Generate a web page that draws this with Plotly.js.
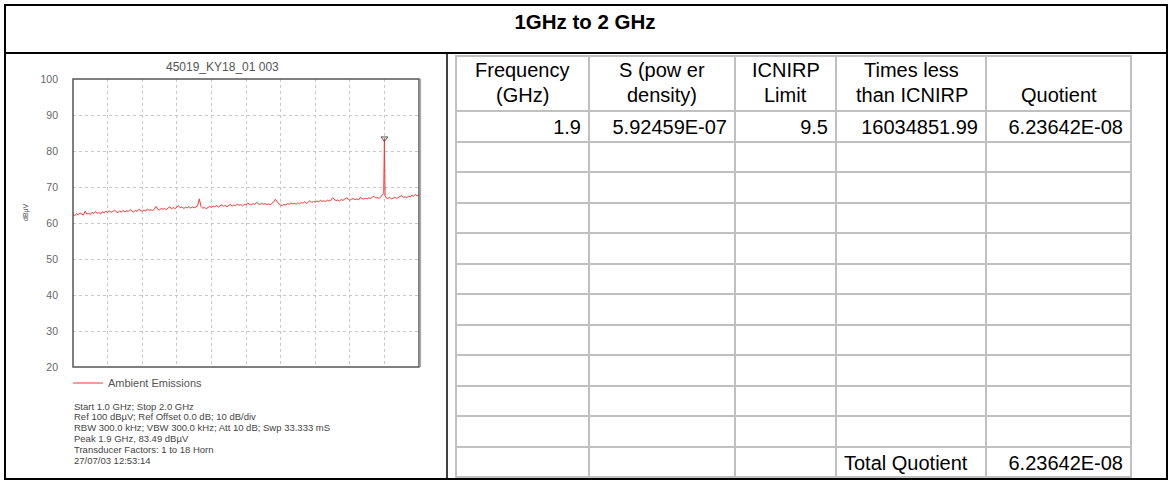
<!DOCTYPE html>
<html><head><meta charset="utf-8">
<script src="https://cdn.plot.ly/plotly-3.0.1.min.js"></script>
<style>html,body{margin:0;padding:0;background:#fff}#chart{width:1170px;height:480px}</style>
</head><body><div id="chart"></div>
<script>
const pageTitle = '1GHz to 2 GHz';
const plotTitle = '45019_KY18_01 003';
const seriesName = 'Ambient Emissions';
const yAxisLabel = 'dBµV';

const freqGHz = [
  1.000,1.005,1.010,1.015,1.020,1.025,1.030,1.035,1.040,1.045,
  1.050,1.055,1.060,1.065,1.070,1.075,1.080,1.085,1.090,1.095,
  1.100,1.105,1.110,1.115,1.120,1.125,1.130,1.135,1.140,1.145,
  1.150,1.155,1.160,1.165,1.170,1.175,1.180,1.185,1.190,1.195,
  1.200,1.205,1.210,1.215,1.220,1.225,1.230,1.235,1.240,1.245,
  1.250,1.255,1.260,1.265,1.270,1.275,1.280,1.285,1.290,1.295,
  1.300,1.305,1.310,1.315,1.320,1.325,1.330,1.335,1.340,1.345,
  1.350,1.355,1.360,1.365,1.370,1.375,1.380,1.385,1.390,1.395,
  1.400,1.405,1.410,1.415,1.420,1.425,1.430,1.435,1.440,1.445,
  1.450,1.455,1.460,1.465,1.470,1.475,1.480,1.485,1.490,1.495,
  1.500,1.505,1.510,1.515,1.520,1.525,1.530,1.535,1.540,1.545,
  1.550,1.555,1.560,1.565,1.570,1.575,1.580,1.585,1.590,1.595,
  1.600,1.605,1.610,1.615,1.620,1.625,1.630,1.635,1.640,1.645,
  1.650,1.655,1.660,1.665,1.670,1.675,1.680,1.685,1.690,1.695,
  1.700,1.705,1.710,1.715,1.720,1.725,1.730,1.735,1.740,1.745,
  1.750,1.755,1.760,1.765,1.770,1.775,1.780,1.785,1.790,1.795,
  1.800,1.805,1.810,1.815,1.820,1.825,1.830,1.835,1.840,1.845,
  1.850,1.855,1.860,1.865,1.870,1.875,1.880,1.885,1.890,1.895,
  1.898,1.900,1.902,
  1.905,1.910,1.915,1.920,1.925,1.930,1.935,1.940,1.945,
  1.950,1.955,1.960,1.965,1.970,1.975,1.980,1.985,1.990,1.995,
  2.000
];
const levelDbuV = [
  62.4,62.0,62.6,62.3,62.8,62.4,62.2,63.3,62.5,62.7,
  62.4,63.0,62.6,63.2,62.7,62.9,62.5,63.1,62.8,63.3,
  62.9,63.4,63.0,63.2,63.6,63.1,62.9,63.3,63.0,63.5,
  63.1,63.4,63.2,63.7,63.3,63.0,63.5,63.2,63.8,63.4,
  63.2,63.6,63.3,63.9,63.5,63.7,63.4,63.9,64.6,63.8,
  63.6,64.1,63.8,64.0,63.7,64.2,64.5,63.9,64.3,64.0,
  64.4,64.8,64.2,64.5,64.0,64.4,64.2,64.6,64.1,64.5,
  64.2,64.4,64.7,66.7,64.6,64.1,64.3,64.0,64.4,64.6,
  64.3,64.7,64.5,64.9,64.4,64.8,65.1,64.6,64.9,64.5,
  64.9,65.2,64.7,65.0,64.8,65.3,64.9,65.1,64.7,65.2,
  65.0,65.6,65.2,65.0,65.4,65.1,65.7,65.3,65.1,65.5,
  65.2,65.4,65.1,65.3,65.0,65.5,65.8,66.6,65.9,65.3,
  65.0,64.8,65.2,65.0,65.4,65.2,65.6,65.3,65.5,65.2,
  65.6,65.3,65.7,65.5,65.9,65.4,65.8,66.2,65.7,66.0,
  65.8,66.1,65.9,66.3,66.0,66.2,65.9,66.4,66.1,66.3,
  67.0,66.5,66.2,66.4,66.1,66.5,66.3,66.6,67.0,66.7,
  66.3,66.6,66.8,66.5,66.7,66.4,67.1,66.8,66.6,66.9,
  66.7,67.0,66.8,67.2,67.4,66.9,67.1,66.8,67.3,67.7,
  68.2,83.49,67.6,
  67.0,66.8,67.1,66.7,66.9,67.2,66.8,67.0,67.3,
  67.6,67.1,67.3,67.0,67.5,67.2,67.8,67.4,67.9,67.5,
  68.0
];
const peakFreqGHz = [1.9];
const peakLevelDbuV = [83.49];
const yTickValues = [20,30,40,50,60,70,80,90,100];
const xGridValues = [1.0,1.1,1.2,1.3,1.4,1.5,1.6,1.7,1.8,1.9,2.0];

const footerLines = [
  'Start 1.0 GHz; Stop 2.0 GHz',
  'Ref 100 dBµV; Ref Offset 0.0 dB; 10 dB/div',
  'RBW 300.0 kHz; VBW 300.0 kHz; Att 10 dB; Swp 33.333 mS',
  'Peak 1.9 GHz, 83.49 dBµV',
  'Transducer Factors: 1 to 18 Horn',
  '27/07/03 12:53:14'
];

const tableHeaders = [
  ['Frequency', '(GHz)'],
  ['S (pow er', 'density)'],
  ['ICNIRP', 'Limit'],
  ['Times less', 'than ICNIRP'],
  ['', 'Quotient']
];
const rowFrequency = ['1.9'];
const rowPowerDensity = ['5.92459E-07'];
const rowLimit = ['9.5'];
const rowTimesLess = ['16034851.99'];
const rowQuotient = ['6.23642E-08'];
const totalLabel = 'Total Quotient';
const totalQuotient = '6.23642E-08';
const emptyRowCount = 10;

// ---- geometry helpers (layout only)
const W = 1170, H = 480;
const px = v => v / W;
const py = v => 1 - v / H;
const FONT = 'Liberation Sans, Arial, sans-serif';
const TABLE_L = 456, TABLE_R = 1132, TABLE_T = 56, TABLE_B = 478;
const colWidths = [133, 146, 101, 150, 145];
const TFONT = 20;

function col(first, last) {
  const c = first.slice();
  for (let i = 0; i < emptyRowCount; i++) c.push('');
  c.push(last);
  return c;
}
const nRows = 1 + emptyRowCount + 1;
const colAlignDefault = Array(nRows).fill('right');
const timesAlign = colAlignDefault.slice(); timesAlign[nRows - 1] = 'left';

const traces = [
  {
    type: 'scatter', mode: 'lines', x: freqGHz, y: levelDbuV, name: seriesName,
    line: {color: '#ff3535', width: 1}, xaxis: 'x', yaxis: 'y', showlegend: true
  },
  {
    type: 'scatter', mode: 'markers', x: peakFreqGHz, y: peakLevelDbuV, showlegend: false,
    marker: {symbol: 'triangle-down-open', size: 6, color: '#555', line: {width: 1, color: '#555'}},
    xaxis: 'x', yaxis: 'y'
  },
  {
    type: 'table',
    domain: {x: [px(TABLE_L), px(TABLE_R)], y: [py(TABLE_B), py(TABLE_T)]},
    columnwidth: colWidths,
    header: {
      values: tableHeaders.map(() => ['']),
      height: 55,
      line: {color: '#c0c0c0', width: 2},
      fill: {color: '#ffffff'},
      font: {family: FONT, size: TFONT, color: '#000'}
    },
    cells: {
      values: [
        col(rowFrequency, ''),
        col(rowPowerDensity, ''),
        col(rowLimit, ''),
        col(rowTimesLess, totalLabel),
        col(rowQuotient, totalQuotient)
      ],
      align: [colAlignDefault, colAlignDefault, colAlignDefault, timesAlign, colAlignDefault],
      height: 30.5,
      line: {color: '#c0c0c0', width: 2},
      fill: {color: '#ffffff'},
      font: {family: FONT, size: TFONT, color: '#000'}
    }
  }
];

const annotations = [
  {text: plotTitle, x: px(222), y: py(67), xref: 'paper', yref: 'paper', showarrow: false,
   font: {family: FONT, size: 12, color: '#555'}, xanchor: 'center', yanchor: 'middle'},
  {text: yAxisLabel, x: px(26), y: py(212), xref: 'paper', yref: 'paper', showarrow: false,
   textangle: -90, font: {family: FONT, size: 7, color: '#555'}, xanchor: 'center', yanchor: 'middle'}
];
footerLines.forEach((t, i) => annotations.push({
  text: t, x: px(72), y: py(406 + i * 10.8), xref: 'paper', yref: 'paper', showarrow: false,
  font: {family: FONT, size: 9.5, color: '#444'}, xanchor: 'left', yanchor: 'middle'
}));
// header texts, centred in each header cell
const totalW = colWidths.reduce((a, b) => a + b, 0);
let acc = 0;
tableHeaders.forEach((lines, ci) => {
  const cx = TABLE_L + (acc + colWidths[ci] / 2) * (TABLE_R - TABLE_L) / totalW;
  acc += colWidths[ci];
  lines.forEach((t, li) => {
    if (!t) return;
    annotations.push({
      text: t, x: px(cx), y: py(70 + li * 25), xref: 'paper', yref: 'paper', showarrow: false,
      font: {family: FONT, size: TFONT, color: '#000'}, xanchor: 'center', yanchor: 'middle'
    });
  });
});

const shapes = [
  {type: 'rect', xref: 'paper', yref: 'paper', x0: px(5), x1: px(1167), y0: py(479), y1: py(5), line: {color: '#000', width: 2}},
  {type: 'line', xref: 'paper', yref: 'paper', x0: px(5), x1: px(1167), y0: py(53), y1: py(53), line: {color: '#000', width: 2}},
  {type: 'line', xref: 'paper', yref: 'paper', x0: px(447), x1: px(447), y0: py(53), y1: py(479), line: {color: '#000', width: 1.5}},
  {type: 'rect', xref: 'x domain', yref: 'y domain', x0: 0, x1: 1, y0: 0, y1: 1, line: {color: '#555', width: 1.5}},
  {type: 'line', xref: 'x domain', yref: 'y domain', x0: 1.004, x1: 1.004, y0: 0, y1: 1, line: {color: '#aaa', width: 1.5}}
];

const layout = {
  width: W, height: H, margin: {l: 0, r: 0, t: 0, b: 0},
  paper_bgcolor: '#fff', plot_bgcolor: '#fff',
  title: {text: '<b>' + pageTitle + '</b>', x: 0.5, xanchor: 'center', y: py(22), yanchor: 'middle', yref: 'paper',
          font: {family: FONT, size: 20.5, color: '#000'}},
  xaxis: {domain: [px(73), px(419)], range: [1, 2], showticklabels: false, ticks: '',
          tickvals: xGridValues, showgrid: true, gridcolor: '#c8c8c8', griddash: 'dot', gridwidth: 1,
          zeroline: false, showline: false, fixedrange: true},
  yaxis: {domain: [py(367), py(79)], range: [20, 100], tickvals: yTickValues, ticks: '',
          showgrid: true, gridcolor: '#c8c8c8', griddash: 'dot', gridwidth: 1, zeroline: false, showline: false,
          tickfont: {family: FONT, size: 10.5, color: '#666'}, ticklabelstandoff: 14, fixedrange: true},
  showlegend: true,
  legend: {x: px(68), y: py(383), xanchor: 'left', yanchor: 'middle', bgcolor: 'rgba(0,0,0,0)',
           font: {family: FONT, size: 11, color: '#555'}, itemwidth: 30, tracegroupgap: 0},
  annotations: annotations,
  shapes: shapes
};

Plotly.newPlot('chart', traces, layout, {displayModeBar: false, staticPlot: true});
</script>
</body></html>
